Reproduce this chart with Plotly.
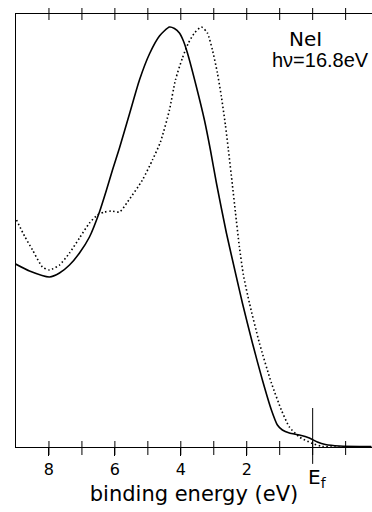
import plotly.graph_objects as go

# Photoemission spectra (NeI, hv = 16.8 eV): intensity vs binding energy
solid_energy = [9.015, 8.590, 7.984, 7.680, 7.377, 7.074, 6.771, 6.468, 6.255, 6.073,
                5.861, 5.558, 5.255, 4.952, 4.648, 4.345, 4.193, 4.042, 3.921, 3.799,
                3.526, 3.284, 3.102, 2.920, 2.617, 2.314, 2.132, 1.828, 1.525, 1.252,
                1.070, 0.919, 0.706, 0.403, 0.100, -0.143, -0.385, -0.810, -1.780]
solid_intensity = [42.26, 40.65, 39.26, 40.18, 42.03, 44.80, 48.50, 54.27, 59.35, 63.97,
                   69.05, 76.91, 84.76, 90.76, 94.92, 97.00, 96.65, 95.60, 93.76, 90.99,
                   83.14, 75.52, 68.59, 60.97, 49.42, 39.26, 33.26, 24.02, 15.47, 8.55,
                   5.08, 3.93, 3.23, 2.77, 2.08, 1.15, 0.58, 0.23, 0.12]

dotted_energy = [8.984, 8.742, 8.499, 8.196, 7.984, 7.680, 7.377, 7.074, 6.771, 6.528,
                 6.316, 6.104, 5.861, 5.619, 5.164, 4.861, 4.618, 4.345, 4.163, 3.951,
                 3.769, 3.587, 3.375, 3.193, 3.041, 2.890, 2.768, 2.647, 2.556, 2.435,
                 2.344, 2.223, 2.101, 1.919, 1.616, 1.252, 0.949, 0.706, 0.403, 0.039,
                 -0.294, -1.780]
dotted_intensity = [52.42, 48.73, 45.50, 41.57, 40.88, 42.03, 44.80, 48.27, 51.73, 53.58,
                    54.27, 54.50, 54.27, 56.58, 61.66, 66.28, 70.44, 77.83, 84.76, 89.84,
                    93.30, 95.61, 97.00, 95.61, 91.69, 86.37, 80.83, 74.36, 68.59, 60.51,
                    54.27, 46.19, 39.72, 33.26, 24.02, 14.78, 8.55, 4.62, 2.31, 0.92,
                    0.12, 0.00]

labeled_ticks = [8, 6, 4, 2]
labeled_text = ["8", "6", "4", "2"]
all_ticks = [8, 7, 6, 5, 4, 3, 2, 1, 0, -1]

x_range = [9.0, -1.8]
y_range = [0, 100]

fig = go.Figure()
fig.add_trace(go.Scatter(x=solid_energy, y=solid_intensity, mode="lines",
                         line=dict(color="black", width=1.6, shape="spline", smoothing=0.6),
                         showlegend=False, hoverinfo="skip"))
fig.add_trace(go.Scatter(x=dotted_energy, y=dotted_intensity, mode="lines",
                         line=dict(color="black", width=1.6, dash="1.5px,2.5px",
                                   shape="spline", smoothing=0.6),
                         showlegend=False, hoverinfo="skip"))

fig.update_layout(
    width=372, height=512,
    margin=dict(l=16, r=0, t=14, b=65),
    paper_bgcolor="white", plot_bgcolor="white",
    xaxis=dict(range=x_range, tickvals=labeled_ticks, ticktext=labeled_text,
               ticks="outside", ticklen=8, tickwidth=1, tickcolor="black",
               showline=True, linecolor="black", linewidth=1, mirror=True,
               showgrid=False, zeroline=False,
               tickfont=dict(family="DejaVu Sans", size=16, color="black"),
               title=dict(text="binding energy (eV)", standoff=8,
                          font=dict(family="DejaVu Sans", size=21, color="black"))),
    yaxis=dict(range=y_range, showline=True, linecolor="black", linewidth=1,
               showticklabels=False, ticks="", showgrid=False, zeroline=False),
)

# tick marks crossing the bottom and top frame lines (6 px in, 8 px out)
h_plot = 512 - 14 - 65
for t in all_ticks:
    fig.add_shape(type="line", xref="x", yref="paper", x0=t, x1=t,
                  y0=-8 / h_plot, y1=6 / h_plot, line=dict(color="black", width=1))
    fig.add_shape(type="line", xref="x", yref="paper", x0=t, x1=t,
                  y0=1 - 6 / h_plot, y1=1 + 6 / h_plot, line=dict(color="black", width=1))

# Fermi level marker
fig.add_shape(type="line", xref="x", yref="paper", x0=0, x1=0, y0=-0.039, y1=0.09,
              line=dict(color="black", width=1))
fig.add_annotation(x=0, xref="x", y=-0.036, yref="paper", text="E<sub>f</sub>",
                   showarrow=False, xanchor="left", yanchor="top", xshift=-7,
                   font=dict(family="DejaVu Sans", size=20, color="black"))

fig.add_annotation(x=0.812, y=0.943, xref="paper", yref="paper", text="NeI",
                   showarrow=False, xanchor="center", yanchor="middle", height=16,
                   font=dict(family="DejaVu Sans", size=20, color="black"))
fig.add_annotation(x=0.996, y=0.893, xref="paper", yref="paper", text="hν=16.8eV",
                   showarrow=False, xanchor="right", yanchor="middle", height=16,
                   font=dict(family="Liberation Sans", size=20, color="black"))

fig.write_html("out.html")
